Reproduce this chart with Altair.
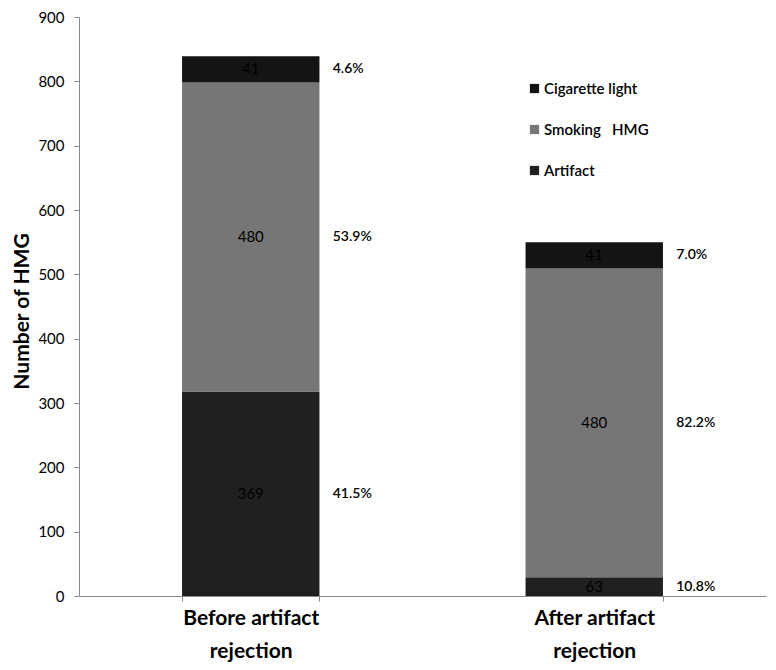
import altair as alt
import pandas as pd

categories = ["Before artifact rejection", "After artifact rejection"]
series = ["Artifact", "Smoking \u00a0 HMG", "Cigarette light"]
# bar segment heights as drawn in the figure
drawn_before = [318, 480, 41]
drawn_after = [29, 480, 41]
# numbers printed on the segments
count_before = [369, 480, 41]
count_after = [63, 480, 41]
pct_before = ["41.5%", "53.9%", "4.6%"]
pct_after = ["10.8%", "82.2%", "7.0%"]

legend_order = ["Cigarette light", "Smoking \u00a0 HMG", "Artifact"]
legend_colors = ["#141414", "#767676", "#202020"]

rows = []
for cat, drawn, cnt, pct in [
    (categories[0], drawn_before, count_before, pct_before),
    (categories[1], drawn_after, count_after, pct_after),
]:
    for i, s in enumerate(series):
        rows.append({"category": cat, "series": s, "ord": i,
                     "height": drawn[i], "count": str(cnt[i]), "pct": pct[i]})
df = pd.DataFrame(rows)

FONT = "Lato"

base = alt.Chart(df).transform_stack(
    stack="height", groupby=["category"], as_=["y0", "y1"],
    sort=[alt.SortField("ord", order="ascending")]
).transform_calculate(mid="(datum.y0 + datum.y1) / 2")

xenc = alt.X("category:N", sort=categories, title=None,
             scale=alt.Scale(paddingInner=0.6, paddingOuter=0.3),
             axis=alt.Axis(labelExpr="indexof(datum.label, ' rejection') > 0 ? [split(datum.label, ' rejection')[0], 'rejection'] : ''",
                           labelAngle=0, labelFontSize=21, labelFontWeight="bold",
                           labelColor="#000", labelFont=FONT, labelLineHeight=33,
                           labelPadding=6, tickBand="extent", tickSize=5,
                           tickColor="#888", domainColor="#888", labelBaseline="top"))

bars = base.mark_bar().encode(
    x=xenc,
    y=alt.Y("y0:Q", title="Number of HMG",
            scale=alt.Scale(domain=[0, 900], nice=False),
            axis=alt.Axis(values=list(range(0, 901, 100)), grid=False,
                          labelFontSize=15, labelColor="#000", labelFont=FONT,
                          tickSize=5, tickColor="#888", domainColor="#888",
                          labelPadding=10, titleFontSize=21, titleFont=FONT,
                          titleFontWeight="bold", titleColor="#000", titlePadding=5,
                          titleY=294)),
    y2="y1:Q",
    color=alt.Color("series:N",
                    scale=alt.Scale(domain=legend_order, range=legend_colors),
                    legend=alt.Legend(title=None, orient="none", legendX=448, legendY=64,
                                      symbolType="square", symbolSize=85,
                                      symbolStrokeWidth=0, labelFontSize=15,
                                      labelFont=FONT, labelFontWeight=600,
                                      labelColor="#000", rowPadding=25,
                                      labelOffset=2)),
)

counts = base.mark_text(fontSize=15, font=FONT, color="#000").encode(
    x=alt.X("category:N", sort=categories),
    y=alt.Y("mid:Q"),
    text="count:N",
)

pcts = base.mark_text(fontSize=14, font=FONT, fontWeight=600, color="#000",
                      align="left", dx=82).encode(
    x=alt.X("category:N", sort=categories),
    y=alt.Y("mid:Q"),
    text="pct:N",
)

chart = alt.layer(bars, counts, pcts).properties(
    width=687, height=579,
    autosize=alt.AutoSizeParams(type="none"),
    padding={"left": 71, "top": 9, "right": 2, "bottom": 66},
).configure_view(stroke=None)

chart.save("out.html", embed_options={"renderer": "svg", "actions": False})
